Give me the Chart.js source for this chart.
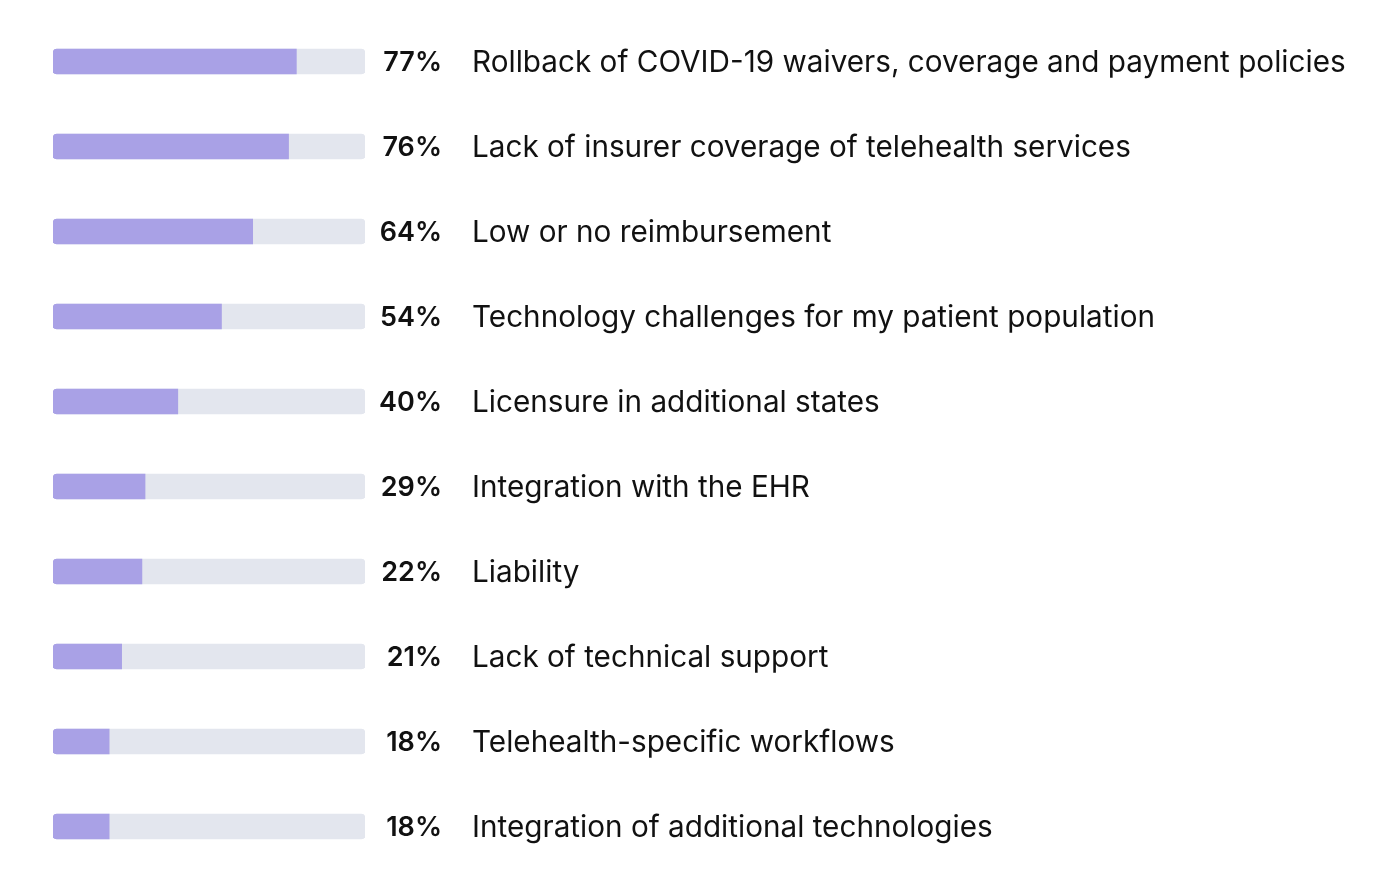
<!DOCTYPE html>
<html>
<head>
<meta charset="utf-8">
<script src="https://cdn.jsdelivr.net/npm/chart.js@4"></script>
<style>
  html, body { margin: 0; padding: 0; background: #ffffff; }
  #wrap { width: 1400px; height: 887px; position: relative; }
</style>
</head>
<body>
<div id="wrap"><canvas id="c"></canvas></div>
<script>
const categories = [
  "Rollback of COVID-19 waivers, coverage and payment policies",
  "Lack of insurer coverage of telehealth services",
  "Low or no reimbursement",
  "Technology challenges for my patient population",
  "Licensure in additional states",
  "Integration with the EHR",
  "Liability",
  "Lack of technical support",
  "Telehealth-specific workflows",
  "Integration of additional technologies"
];
const valueLabels = ["77%", "76%", "64%", "54%", "40%", "29%", "22%", "21%", "18%", "18%"];
// bar lengths as drawn in the picture (percent of the track)
const barValues = [78, 75.5, 64, 54, 40, 29.5, 28.5, 22, 18, 18];
const trackValues = [100, 100, 100, 100, 100, 100, 100, 100, 100, 100];

const FONT_FAMILY = "Inter, 'Open Sans', sans-serif";

const labelPlugin = {
  id: 'rowLabels',
  afterDatasetsDraw(chart) {
    const ctx = chart.ctx;
    const area = chart.chartArea;
    const yScale = chart.scales.y;
    ctx.save();
    let size = 28;
    ctx.font = `400 ${size}px ${FONT_FAMILY}`;
    const w = ctx.measureText(categories[0]).width;
    size = Math.min(30, size * 874 / w);
    categories.forEach((cat, i) => {
      const y = yScale.getPixelForValue(i) + 1.5;
      ctx.fillStyle = '#111111';
      ctx.textBaseline = 'middle';
      ctx.textAlign = 'right';
      ctx.font = `600 27px ${FONT_FAMILY}`;
      ctx.fillText(valueLabels[i], area.right + 77, y);
      ctx.textAlign = 'left';
      ctx.font = `400 ${size}px ${FONT_FAMILY}`;
      ctx.fillText(cat, area.right + 107, y);
    });
    ctx.restore();
  }
};

new Chart(document.getElementById('c'), {
  type: 'bar',
  data: {
    labels: categories,
    datasets: [
      {
        data: barValues,
        backgroundColor: '#A9A1E6',
        borderRadius: { topLeft: 4, bottomLeft: 4, topRight: 0, bottomRight: 0 },
        borderSkipped: false,
        barThickness: 25,
        grouped: false,
        order: 0
      },
      {
        data: trackValues,
        backgroundColor: '#E3E6EE',
        borderRadius: 4,
        borderSkipped: false,
        barThickness: 25,
        grouped: false,
        order: 1
      }
    ]
  },
  options: {
    indexAxis: 'y',
    responsive: true,
    maintainAspectRatio: false,
    animation: false,
    layout: { padding: { left: 53, right: 1035, top: 19, bottom: 18 } },
    scales: {
      x: { display: false, min: 0, max: 100 },
      y: { display: false }
    },
    plugins: {
      legend: { display: false },
      tooltip: { enabled: false }
    }
  },
  plugins: [labelPlugin]
});
</script>
</body>
</html>
